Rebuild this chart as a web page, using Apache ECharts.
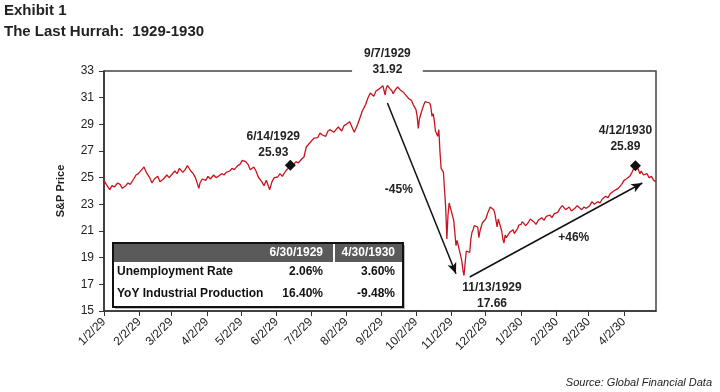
<!DOCTYPE html>
<html><head><meta charset="utf-8">
<script src="https://cdn.jsdelivr.net/npm/echarts@6/dist/echarts.min.js"></script>
<style>html,body{margin:0;padding:0;background:#fff}#c{width:720px;height:392px}</style>
</head><body><div id="c"></div>
<script>
// ---- data ----
const dates = [
'1929-01-02','1929-01-04','1929-01-07','1929-01-09','1929-01-11','1929-01-14','1929-01-16','1929-01-18','1929-01-21','1929-01-23','1929-01-25','1929-01-28','1929-01-30',
'1929-02-01','1929-02-04','1929-02-06','1929-02-08','1929-02-11','1929-02-13','1929-02-15','1929-02-18','1929-02-20','1929-02-23','1929-02-26','1929-02-28',
'1929-03-02','1929-03-05','1929-03-07','1929-03-09','1929-03-12','1929-03-14','1929-03-16','1929-03-19','1929-03-21','1929-03-23','1929-03-26','1929-03-27','1929-03-29',
'1929-04-01','1929-04-03','1929-04-05','1929-04-08','1929-04-10','1929-04-12','1929-04-15','1929-04-17','1929-04-19','1929-04-22','1929-04-24','1929-04-26','1929-04-29',
'1929-05-01','1929-05-03','1929-05-06','1929-05-08','1929-05-10','1929-05-13','1929-05-15','1929-05-17','1929-05-20','1929-05-22','1929-05-24','1929-05-27','1929-05-29','1929-05-31',
'1929-06-03','1929-06-05','1929-06-07','1929-06-10','1929-06-12','1929-06-14','1929-06-17','1929-06-19','1929-06-21','1929-06-24','1929-06-26','1929-06-28',
'1929-07-01','1929-07-03','1929-07-05','1929-07-08','1929-07-10','1929-07-12','1929-07-15','1929-07-17','1929-07-19','1929-07-22','1929-07-24','1929-07-26','1929-07-29','1929-07-31',
'1929-08-02','1929-08-05','1929-08-08','1929-08-09','1929-08-12','1929-08-14','1929-08-16','1929-08-19','1929-08-21','1929-08-23','1929-08-26','1929-08-28','1929-08-30',
'1929-09-03','1929-09-04','1929-09-05','1929-09-06','1929-09-07','1929-09-09','1929-09-11','1929-09-12','1929-09-14','1929-09-16','1929-09-18','1929-09-19','1929-09-21','1929-09-24','1929-09-26','1929-09-28','1929-09-30',
'1929-10-02','1929-10-03','1929-10-04','1929-10-05','1929-10-07','1929-10-09','1929-10-10','1929-10-11','1929-10-14','1929-10-15','1929-10-16','1929-10-17','1929-10-18','1929-10-19','1929-10-21','1929-10-22','1929-10-23','1929-10-24','1929-10-25','1929-10-26','1929-10-28','1929-10-29','1929-10-30','1929-10-31',
'1929-11-04','1929-11-06','1929-11-07','1929-11-08','1929-11-11','1929-11-12','1929-11-13','1929-11-14','1929-11-15','1929-11-18','1929-11-19','1929-11-20','1929-11-21','1929-11-22','1929-11-25','1929-11-26','1929-11-27','1929-11-29',
'1929-12-02','1929-12-04','1929-12-06','1929-12-09','1929-12-10','1929-12-12','1929-12-13','1929-12-16','1929-12-17','1929-12-18','1929-12-19','1929-12-20','1929-12-23','1929-12-26','1929-12-27','1929-12-30','1929-12-31',
'1930-01-02','1930-01-03','1930-01-06','1930-01-08','1930-01-10','1930-01-13','1930-01-15','1930-01-17','1930-01-20','1930-01-22','1930-01-24','1930-01-27','1930-01-29','1930-01-31',
'1930-02-03','1930-02-05','1930-02-07','1930-02-10','1930-02-13','1930-02-15','1930-02-18','1930-02-20','1930-02-24','1930-02-26','1930-02-28',
'1930-03-03','1930-03-05','1930-03-07','1930-03-10','1930-03-12','1930-03-14','1930-03-17','1930-03-19','1930-03-21','1930-03-24','1930-03-26','1930-03-28','1930-03-31',
'1930-04-02','1930-04-04','1930-04-07','1930-04-09','1930-04-10','1930-04-11','1930-04-12','1930-04-14','1930-04-16','1930-04-17','1930-04-19','1930-04-22','1930-04-24','1930-04-26','1930-04-28','1930-04-30'
];
const spx = [
24.81,24.5,24.1,24.4,24.3,24.6,24.5,24.2,24.4,24.6,24.5,24.9,25.2,
25.3,25.6,25.8,25.4,25.0,24.6,24.9,25.1,24.7,24.9,25.2,25.0,
25.2,25.5,25.3,25.7,25.4,25.6,25.9,25.5,25.3,25.0,24.2,24.6,24.9,
24.8,25.1,24.9,25.2,25.0,25.1,25.3,25.2,25.4,25.5,25.7,25.6,25.9,
26.0,26.3,26.2,26.0,25.6,25.8,25.5,25.05,24.7,24.4,24.8,24.1,24.7,25.0,
25.05,25.3,25.1,25.5,25.7,25.93,26.0,26.2,26.1,26.4,26.55,27.3,
27.6,27.8,27.97,28.0,28.35,28.2,28.1,28.5,28.6,28.4,28.6,28.8,28.5,28.9,
29.0,29.2,28.6,28.4,29.0,29.5,30.0,30.5,31.0,31.35,31.1,31.5,31.6,
31.9,31.85,31.2,31.7,31.92,31.7,31.5,31.3,31.6,31.8,31.6,31.7,31.4,31.1,30.9,30.8,30.4,
30.1,29.6,28.7,29.4,30.0,30.5,30.7,30.8,30.6,30.3,29.6,29.8,29.3,28.5,28.1,28.6,26.9,25.7,25.8,25.4,22.7,20.4,22.2,23.1,
21.8,19.9,20.3,19.9,18.8,18.1,17.66,18.6,19.5,19.4,20.4,20.9,21.1,21.4,21.3,20.5,21.0,21.6,
21.9,22.4,22.8,22.6,22.3,21.3,21.9,21.0,20.4,20.1,20.7,20.5,20.9,21.1,20.8,21.2,21.45,
21.5,21.7,21.4,21.6,21.9,21.7,21.5,21.8,22.0,21.8,22.1,22.2,22.0,22.3,
22.4,22.7,22.9,22.6,22.8,22.5,22.7,22.9,22.6,22.8,22.7,
22.9,23.2,23.0,23.2,23.1,23.4,23.6,23.5,23.8,24.0,24.1,24.2,24.5,
24.8,24.9,25.1,25.4,25.6,25.5,25.89,25.7,25.3,25.5,25.2,25.3,25.0,25.1,24.8,24.7
];
const tickDates = ['1929-01-02','1929-02-02','1929-03-02','1929-04-02','1929-05-02','1929-06-02','1929-07-02','1929-08-02','1929-09-02','1929-10-02','1929-11-02','1929-12-02','1930-01-02','1930-02-02','1930-03-02','1930-04-02'];
const tickLabels = ['1/2/29','2/2/29','3/2/29','4/2/29','5/2/29','6/2/29','7/2/29','8/2/29','9/2/29','10/2/29','11/2/29','12/2/29','1/2/30','2/2/30','3/2/30','4/2/30'];
const yTicks = [15,17,19,21,23,25,27,29,31,33];
const callouts = [
  {date:'1929-09-07', value:31.92, text:'9/7/1929\n31.92', kind:'peak'},
  {date:'1929-06-14', value:25.93, text:'6/14/1929\n25.93', kind:'diamond'},
  {date:'1930-04-12', value:25.89, text:'4/12/1930\n25.89', kind:'diamond'},
  {date:'1929-11-13', value:17.66, text:'11/13/1929\n17.66', kind:'low'}
];
const arrowFall = [['1929-09-07',30.6],['1929-11-06',17.8]];
const arrowRise = [['1929-11-18',17.55],['1930-04-18',24.6]];
const pctNotes = [{date:'1929-09-17', value:24.07, text:'-45%'},{date:'1930-02-17', value:20.47, text:'+46%'}];
const tableHead = ['', '6/30/1929', '4/30/1930'];
const tableRows = [['Unemployment Rate','2.06%','3.60%'],['YoY Industrial Production','16.40%','-9.48%']];
// ---- helpers: dates -> day number since 1/2/1929 ----
const DAY0 = Date.UTC(1929,0,2);
function dn(s){const p=s.split('-').map(Number);return Math.round((Date.UTC(p[0],p[1]-1,p[2])-DAY0)/86400000);}
const tickPos = tickDates.map(dn);
const lineData = dates.map((d,i)=>[dn(d), spx[i]]);
const FONT = '"Liberation Sans", Arial, sans-serif';
const offsets = {'1929-09-07':[0,-24],'1929-06-14':[-17,-21],'1930-04-12':[-10,-27],'1929-11-13':[28,20]};
const mpData = callouts.map(c=>({
  coord:[dn(c.date), c.value],
  symbol: c.kind==='diamond' ? 'diamond' : 'circle',
  symbolSize: c.kind==='diamond' ? 11 : 1,
  itemStyle:{color: c.kind==='diamond' ? '#111' : 'rgba(0,0,0,0)'},
  label:{show:true, formatter:c.text, offset:offsets[c.date], color:'#222', fontWeight:'bold', fontSize:12, fontFamily:FONT, lineHeight:16, align:'center',
         backgroundColor: c.kind==='peak' ? '#fff' : 'transparent', padding: c.kind==='peak' ? [1,12,1,12] : 0}
})).concat(pctNotes.map(n=>({
  coord:[dn(n.date), n.value], symbol:'circle', symbolSize:1, itemStyle:{color:'rgba(0,0,0,0)'},
  label:{show:true, formatter:n.text, color:'#222', fontWeight:'bold', fontSize:12, fontFamily:FONT}
})));
const arrowStyle = {color:'#111', width:1.5, type:'solid'};
const mlData = [arrowFall, arrowRise].map(a=>[
  {coord:[dn(a[0][0]), a[0][1]], symbol:'none'},
  {coord:[dn(a[1][0]), a[1][1]], symbol:'arrow', symbolSize:[7,11]}
]);
// table graphic
const tX=113, tY=243, tW=290, tH=64, hH=18;
const colR=[0,210,282];
const tableEls = [
  {type:'rect', shape:{x:tX+2,y:tY+2,width:tW,height:tH}, style:{fill:'#bbb'}},
  {type:'rect', shape:{x:tX,y:tY,width:tW,height:tH}, style:{fill:'#fff', stroke:'#111', lineWidth:2}},
  {type:'rect', shape:{x:tX+1,y:tY+1,width:tW-2,height:hH}, style:{fill:'#5a5a5a'}},
  {type:'line', shape:{x1:tX+221,y1:tY+1,x2:tX+221,y2:tY+hH+1}, style:{stroke:'#fff', lineWidth:2}}
];
tableHead.forEach((h,j)=>{ if(h) tableEls.push({type:'text', x:tX+colR[j], y:tY+10, style:{text:h, fill:'#fff', font:'bold 12px '+FONT, align:'right', verticalAlign:'middle'}}); });
tableRows.forEach((r,i)=>{
  const y = tY+29+i*22;
  r.forEach((c,j)=>{
    tableEls.push({type:'text', x: j===0 ? tX+4 : tX+colR[j], y:y, style:{text:c, fill:'#111', font:'bold 12px '+FONT, align: j===0?'left':'right', verticalAlign:'middle'}});
  });
});
const chart = echarts.init(document.getElementById('c'), null, {renderer:'canvas'});
chart.setOption({
  animation:false,
  backgroundColor:'#fff',
  title:[
    {text:'Exhibit 1', left:4, top:3, padding:0, textStyle:{fontSize:15, fontWeight:'bold', color:'#222', fontFamily:FONT}},
    {text:'The Last Hurrah:  1929-1930', left:4, top:24, padding:0, textStyle:{fontSize:15, fontWeight:'bold', color:'#222', fontFamily:FONT}}
  ],
  grid:{left:104, right:64, top:71, bottom:81, show:true, borderColor:'#444', borderWidth:1.5, backgroundColor:'transparent'},
  xAxis:{
    type:'value', min:0, max:dn('1930-04-30'),
    axisLine:{show:true, onZero:false, lineStyle:{color:'#333', width:1.5}},
    axisTick:{show:true, customValues:tickPos, length:5, lineStyle:{color:'#333'}},
    axisLabel:{show:true, customValues:tickPos, rotate:45, fontSize:12, color:'#222', fontFamily:FONT, margin:9,
      formatter:function(v){const i=tickPos.indexOf(Math.round(v)); return i>=0?tickLabels[i]:'';}},
    splitLine:{show:false}
  },
  yAxis:{
    type:'value', min:yTicks[0], max:yTicks[yTicks.length-1], interval:2,
    name:'S&P Price', nameLocation:'middle', nameGap:38, nameRotate:90,
    nameTextStyle:{fontSize:11, fontWeight:'bold', color:'#222', fontFamily:FONT},
    axisLine:{show:true, lineStyle:{color:'#333', width:1.5}},
    axisTick:{show:true, length:5, lineStyle:{color:'#333'}},
    axisLabel:{fontSize:12, color:'#222', fontFamily:FONT, margin:10},
    splitLine:{show:false}
  },
  series:[{
    type:'line', data:lineData, showSymbol:false, symbol:'none',
    lineStyle:{color:'#c8141e', width:1.3},
    markLine:{silent:true, symbol:['none','arrow'], label:{show:false}, lineStyle:arrowStyle, data:mlData, animation:false},
    markPoint:{silent:true, data:mpData, animation:false}
  }],
  graphic:[
    {type:'group', z:100, children:tableEls},
    {type:'text', right:8, top:377, style:{text:'Source: Global Financial Data', font:'italic 11px '+FONT, fill:'#222'}}
  ]
});
</script></body></html>
